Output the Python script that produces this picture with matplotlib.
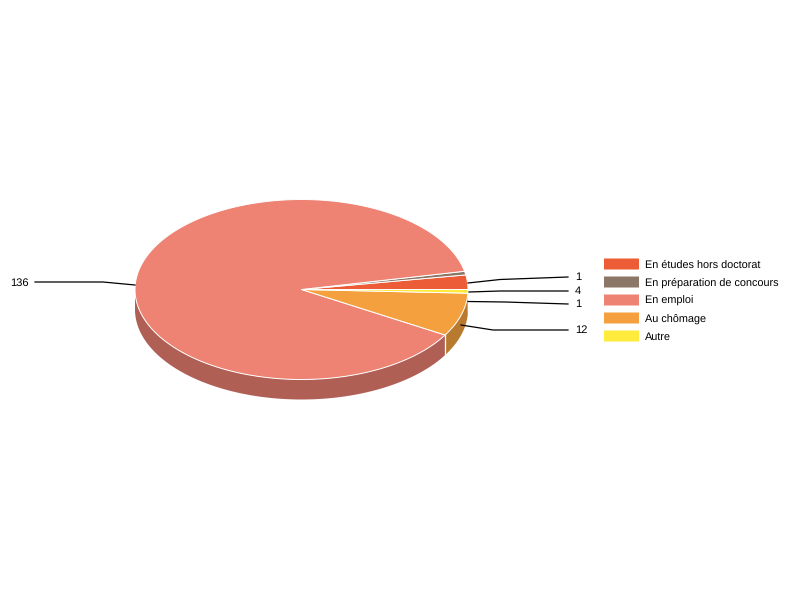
import numpy as np
import matplotlib
matplotlib.use('Agg')
import matplotlib.pyplot as plt
from matplotlib.patches import Polygon, Rectangle

plt.rcParams['font.family'] = ['Liberation Sans', 'DejaVu Sans']
plt.rcParams['text.hinting'] = 'no_hinting'

categories = ['En études hors doctorat', 'En préparation de concours', 'En emploi', 'Au chômage', 'Autre']
values = [4, 1, 136, 12, 1]
colors = ['#EC5C36', '#8A7767', '#EE8273', '#F4A03F', '#FFEB3C']
side_colors = ['#B04A2C', '#6B5C50', '#B05F55', '#B87A2E', '#C0B030']

# leader labels are in this order in the original chart
callouts = ['136', '1', '4', '1', '12']

cx, cy, rx, ry, depth = 301.5, 289.5, 166.5, 90, 20


def arc(a0, a1):
    t = np.radians(np.linspace(a0, a1, 200))
    return np.column_stack([cx + rx * np.cos(t), cy - ry * np.sin(t)])


fig = plt.figure(figsize=(8, 6), dpi=100)
ax = fig.add_axes([0, 0, 1, 1])
ax.set_xlim(0, 800)
ax.set_ylim(600, 0)
ax.axis('off')

edges = np.cumsum([0] + values) / sum(values) * 360

# side of the pie first, only the part facing the viewer
for i in range(len(values)):
    a0, a1 = max(edges[i], 180), min(edges[i + 1], 360)
    if a1 <= a0:
        continue
    top = arc(a0, a1)
    bottom = top[::-1] + [0, depth]
    ax.add_patch(Polygon(np.vstack([top, bottom]), closed=True, fc=side_colors[i], ec='none', zorder=2))
    ax.plot(*np.vstack([top[-1], top[-1] + [0, depth]]).T, color='white', lw=0.9, zorder=2.5)

# top of the pie
for i in range(len(values)):
    pts = np.vstack([[cx, cy], arc(edges[i], edges[i + 1])])
    ax.add_patch(Polygon(pts, closed=True, fc=colors[i], ec='white', lw=0.7, joinstyle='round', zorder=3))

# leader lines
lines = [
    ([135, 103, 35], [285, 282, 282]),
    ([468, 500, 568], [283, 279.5, 277]),
    ([469, 500, 568], [292, 291, 291]),
    ([468, 505, 568], [301.5, 302, 304]),
    ([461, 493, 568], [325, 330, 330]),
]
for (xs, ys), label in zip(lines, callouts):
    ax.plot(xs, ys, color='black', lw=0.9, zorder=4)
    if xs[0] < cx:
        ax.text(xs[-1] - 6, ys[-1] + 0.6, label, ha='right', va='center', fontsize=8)
    else:
        ax.text(xs[-1] + 7, ys[-1] + 0.6, label, ha='left', va='center', fontsize=8)

# legend
for i, name in enumerate(categories):
    y = 264 + i * 18
    ax.add_patch(Rectangle((604, y - 5.5), 35, 11, fc=colors[i], ec='none', snap=False))
    ax.text(645, y + 0.6, name, ha='left', va='center', fontsize=7.85)

fig.savefig('out.png', dpi=100)
